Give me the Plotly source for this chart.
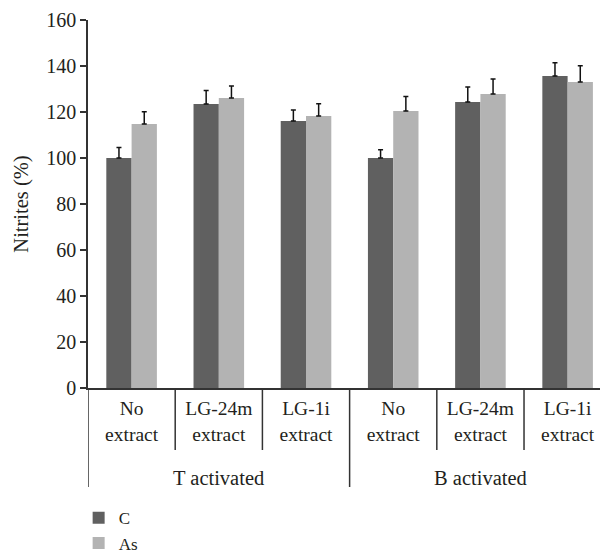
import plotly.graph_objects as go

groups = ["T activated", "B activated"]
subcategories = ["No<br>extract", "LG-24m<br>extract", "LG-1i<br>extract",
                 "No<br>extract", "LG-24m<br>extract", "LG-1i<br>extract"]
series_names = ["C", "As"]
c_values = [100, 123.5, 116.1, 100, 124.3, 135.7]
c_errors = [4.6, 5.8, 4.8, 3.6, 6.6, 5.7]
as_values = [114.8, 126.1, 118.3, 120.4, 127.8, 133.0]
as_errors = [5.3, 5.2, 5.3, 6.3, 6.5, 7.1]
y_ticks = [0, 20, 40, 60, 80, 100, 120, 140, 160]

FONT = "Liberation Serif"
TXT = "#231f20"
LINE = "#333333"

x_pos = list(range(len(subcategories)))

fig = go.Figure()
fig.add_trace(go.Bar(
    x=x_pos, y=c_values, name=series_names[0], marker_color="#606060",
    marker_line_width=0,
    error_y=dict(type="data", array=c_errors, arrayminus=[0] * len(c_errors),
                 symmetric=False, color="#111111", thickness=1.5, width=2.5),
))
fig.add_trace(go.Bar(
    x=x_pos, y=as_values, name=series_names[1], marker_color="#b3b3b3",
    marker_line_width=0,
    error_y=dict(type="data", array=as_errors, arrayminus=[0] * len(as_errors),
                 symmetric=False, color="#111111", thickness=1.5, width=2.5),
))

# page has an 8px body margin: figure is 600x548 placed at (8, 8)
W, H = 600, 548
ML, MT = 80, 12
plot_h = 368
MB = H - MT - plot_h
short_y = -62 / plot_h
long_y = -99 / plot_h
shapes = []
for i in range(len(subcategories) + 1):
    b = i - 0.5
    is_group = (i % 3 == 0)
    shapes.append(dict(type="line", xref="x", yref="paper", x0=b, x1=b,
                       y0=0, y1=long_y if is_group else short_y,
                       line=dict(color=LINE, width=1.5)))

annotations = []
for gi, g in enumerate(groups):
    annotations.append(dict(text=g, x=gi * 3 + 1, xref="x", y=-90 / plot_h,
                            yref="paper", showarrow=False, yanchor="middle",
                            font=dict(family=FONT, size=20.5, color=TXT)))

fig.update_layout(
    width=W, height=H,
    margin=dict(l=ML, r=0, t=MT, b=MB, autoexpand=False),
    paper_bgcolor="white", plot_bgcolor="white",
    barmode="group", bargap=0.42, bargroupgap=0,
    font=dict(family=FONT, size=19, color=TXT),
    xaxis=dict(range=[-0.5, 5.463], tickvals=x_pos, ticktext=subcategories,
               showgrid=False, zeroline=False, showline=True, linecolor=LINE,
               linewidth=1.5, ticks="", ticklabelstandoff=2, automargin=False,
               tickfont=dict(family=FONT, size=19.5, color=TXT)),
    yaxis=dict(range=[0, 160], tickvals=y_ticks, showgrid=False, zeroline=False,
               showline=True, linecolor=LINE, linewidth=1.5, ticks="outside",
               ticklen=6, tickwidth=1.5, tickcolor=LINE, automargin=False,
               tickfont=dict(family=FONT, size=20, color=TXT),
               title=dict(text="Nitrites (%)", standoff=12,
                          font=dict(family=FONT, size=20.5, color=TXT))),
    legend=dict(x=-0.018, xanchor="left", y=-0.305, yanchor="top",
                orientation="v", font=dict(family=FONT, size=17, color=TXT),
                bgcolor="rgba(0,0,0,0)", tracegroupgap=0),
    shapes=shapes, annotations=annotations,
)

fig.write_html("out.html")
